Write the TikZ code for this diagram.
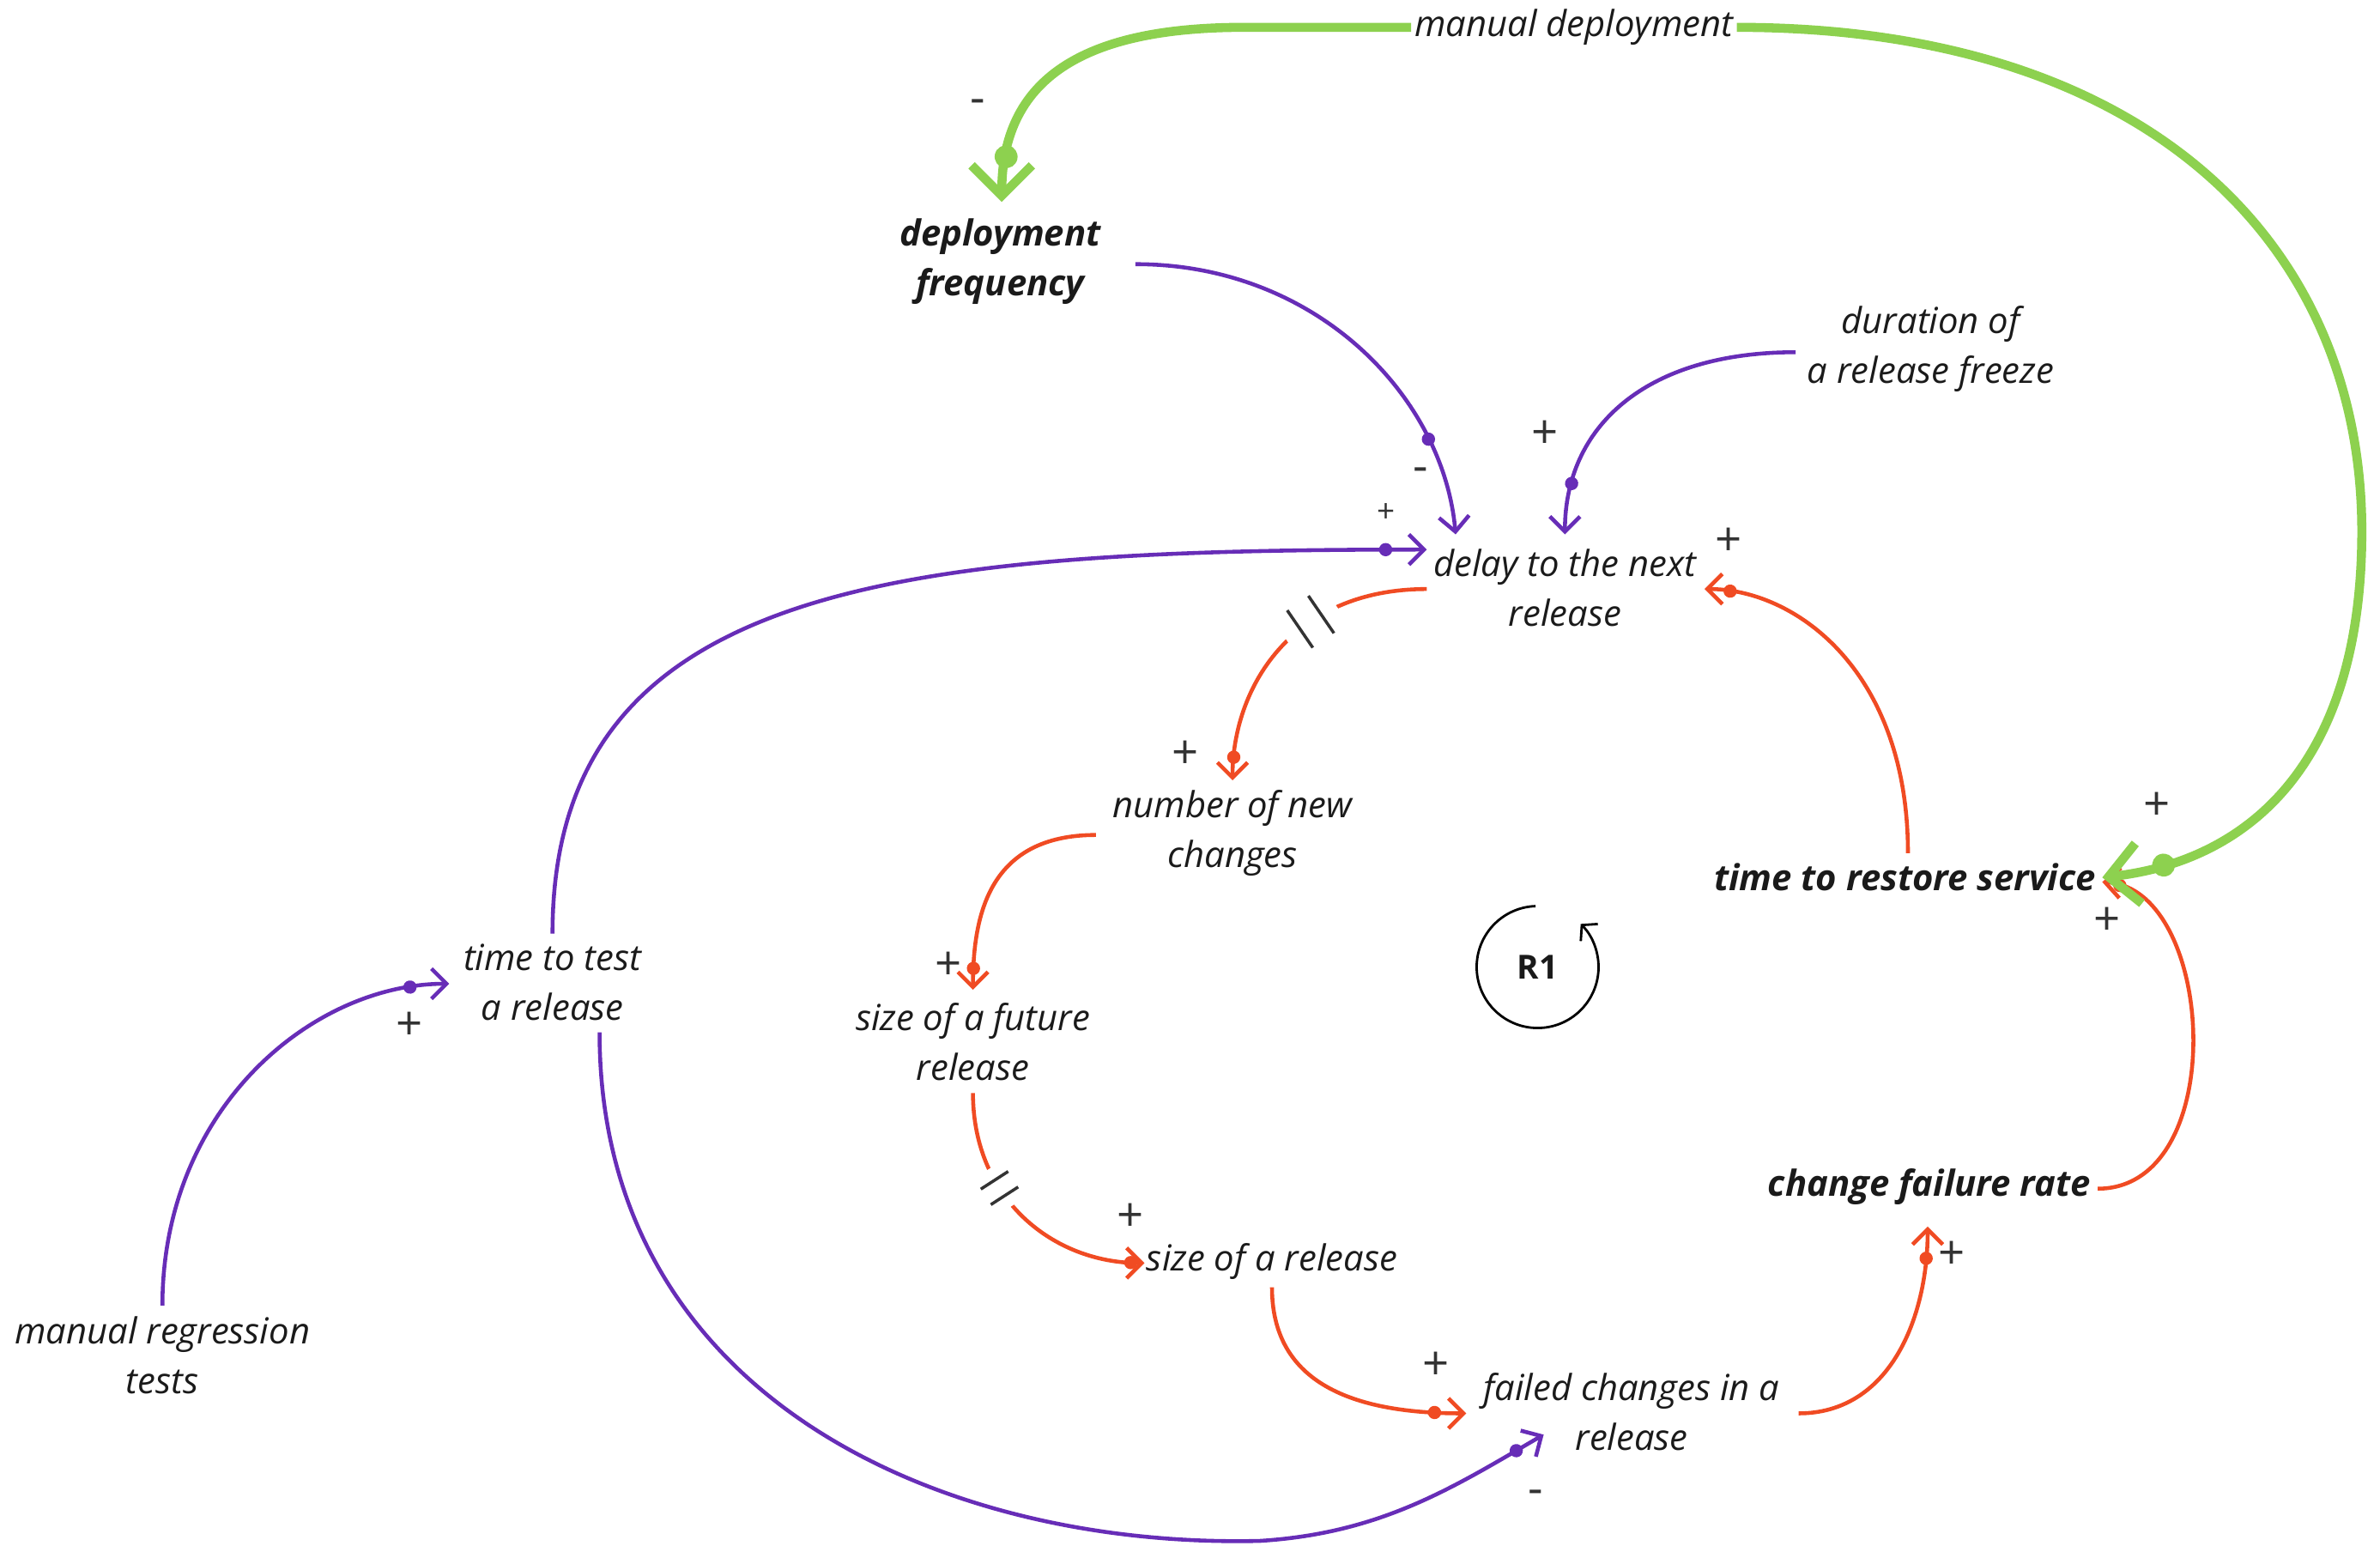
\documentclass[tikz,border=0pt]{standalone}
\usepackage{fontspec}
\setmainfont{Open Sans}
\usetikzlibrary{arrows.meta,decorations.markings}
\definecolor{cldpurple}{HTML}{672DB7}
\definecolor{cldred}{HTML}{F04B23}
\definecolor{cldgreen}{HTML}{8DD14F}
\definecolor{cldtext}{HTML}{1A1A1A}
\definecolor{cldsign}{HTML}{333333}

\begin{document}
\begin{tikzpicture}[x=0.017685cm, y=-0.017685cm,
    var/.style={align=center, inner sep=0pt, text=cldtext, font=\fontsize{11.9}{16.5}\selectfont\itshape},
    keyvar/.style={var, font=\fontsize{11.9}{16.5}\selectfont\bfseries\itshape},
    sign/.style={inner sep=0pt, text=cldsign, font=\fontsize{15.5}{15.5}\selectfont},
    purplelink/.style={color=cldpurple, line width=1.3pt, -{Straight Barb[length=5pt,width=10pt]}},
    redlink/.style={color=cldred, line width=1.3pt, -{Straight Barb[length=5pt,width=10pt]}},
    greenlink/.style={color=cldgreen, line width=3pt, -{Straight Barb[length=10pt,width=20pt]}},
    linkdot/.style={postaction={decorate, decoration={markings, mark=at position -#1 with {\fill circle (2.2pt);}}}},
    bigdot/.style={postaction={decorate, decoration={markings, mark=at position -#1 with {\fill circle (3.8pt);}}}},
    delaymark/.style 2 args={postaction={decorate, decoration={markings, mark=at position #1 with {
        \begin{scope}[scale=#2]
        \fill[white] (-10pt,-3pt) rectangle (10pt,3pt);
        \draw[-, cldsign, line width=1pt] (-4.25pt,-7.5pt) -- (-4.25pt,7.5pt) (4.25pt,-7.5pt) -- (4.25pt,7.5pt);
        \end{scope}}}}}
]
\useasboundingbox (0,0) rectangle (1568,1018);

\node[var, inner sep=1pt] (0) at (1037,18) {manual deployment};
\node[keyvar] (1) at (659,172) {deployment\\frequency};
\node[var] (2) at (1272,230) {duration of\\a release freeze};
\node[var] (3) at (1031,387) {delay to the next\\release};
\node[var] (4) at (812,549) {number of new\\changes};
\node[keyvar] (5) at (1255,578) {time to restore service};
\node[var] (6) at (364,647) {time to test\\a release};
\node[var] (7) at (641,686) {size of a future\\release};
\node[keyvar] (8) at (1271,782) {change failure rate};
\node[var] (9) at (838,831) {size of a release};
\node[var] (10) at (107,893) {manual regression\\tests};
\node[var] (11) at (1075,930) {failed changes in a\\release};

% loop marker
\node[font=\fontsize{11}{11}\selectfont\bfseries, text=cldtext] (12) at (1013,637) {R1};
\draw[line width=0.8pt, -{Straight Barb[length=3.5pt,width=8pt]}] ([shift={(92:0.71cm)}]12.center) arc[start angle=92, end angle=405, radius=0.71cm];

\draw[purplelink, linkdot=1.16cm] ([shift={(89,2)}]1.center) .. controls +(120,0) and +(-8,-90) .. ([shift={(-72,-35)}]3.center);
\draw[purplelink, linkdot=0.6cm] ([shift={(-89,2)}]2.center) .. controls +(-100,0) and +(0,-70) .. ([shift={(0,-35)}]3.center);
\draw[purplelink, linkdot=0.48cm] ([shift={(0,-32)}]6.center) .. controls +(0,-230) and +(-350,0) .. ([shift={(-91,-25)}]3.center);
\draw[purplelink, linkdot=0.46cm] ([shift={(0,-33)}]10.center) .. controls +(0,-130) and +(-90,0) .. ([shift={(-68,1)}]6.center);
\draw[purplelink, linkdot=0.37cm] ([shift={(31,33)}]6.center) .. controls +(0,240) and +(-210,5) .. (830,1015) .. controls +(80,-5) and +(-60,35) .. ([shift={(-58,15)}]11.center);

\draw[redlink, linkdot=0.27cm, delaymark={0.4}{1}] ([shift={(-91,1)}]3.center) .. controls +(-90,0) and +(0,-60) .. ([shift={(0,-35)}]4.center);
\draw[redlink, linkdot=0.25cm] ([shift={(-90,1)}]4.center) .. controls +(-70,0) and +(0,-50) .. ([shift={(0,-34)}]7.center);
\draw[redlink, linkdot=0.16cm, delaymark={0.37}{0.72}] ([shift={(0,34)}]7.center) .. controls +(0,70) and +(-60,0) .. ([shift={(-84,1)}]9.center);
\draw[redlink, linkdot=0.37cm] ([shift={(0,17)}]9.center) .. controls +(0,60) and +(-80,0) .. ([shift={(-109,1)}]11.center);
\draw[redlink, linkdot=0.37cm] ([shift={(110,1)}]11.center) .. controls +(60,0) and +(0,60) .. ([shift={(-1,26)}]8.center);
\draw[redlink, linkdot=0.21cm] ([shift={(111,1)}]8.center) .. controls +(88,0) and +(75,4) .. ([shift={(130,3)}]5.center);
\draw[redlink, linkdot=0.3cm] ([shift={(2,-16)}]5.center) .. controls +(0,-120) and +(60,0) .. ([shift={(92,1)}]3.center);

\draw[greenlink, bigdot=0.53cm] (0.west) -- ++(-110,0) .. controls +(-100,0) and +(0,-85) .. ([shift={(1,-39)}]1.center);
\draw[greenlink, bigdot=0.73cm] (0.east) .. controls +(270,0) and +(0,-190) .. (1556,350) .. controls +(0,160) and +(90,-10) .. ([shift={(130,0)}]5.center);

% polarities
\node[sign] (s0) at (644,70) {-};
\node[sign] (s1) at (1421,531) {+};
\node[sign] (s2) at (936,313) {-};
\node[sign] (s3) at (1018,286) {+};
\node[sign, font=\fontsize{10.5}{10.5}\selectfont] (s4) at (913,338) {+};
\node[sign] (s5) at (270,676) {+};
\node[sign] (s6) at (1012,986) {-};
\node[sign] (s7) at (781,497) {+};
\node[sign] (s8) at (625,636) {+};
\node[sign] (s9) at (745,802) {+};
\node[sign] (s10) at (946,900) {+};
\node[sign] (s11) at (1286,827) {+};
\node[sign] (s12) at (1388,607) {+};
\node[sign] (s13) at (1139,357) {+};
\end{tikzpicture}
\end{document}
